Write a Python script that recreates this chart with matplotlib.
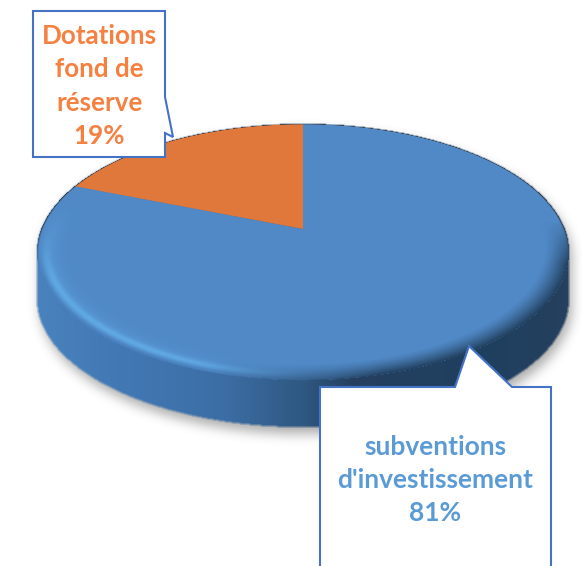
import numpy as np
import matplotlib
matplotlib.use("Agg")
import matplotlib.pyplot as plt
from matplotlib.patches import Polygon
from matplotlib.transforms import Transform
from matplotlib.colors import LinearSegmentedColormap

# ---- data ----
categories = ["subventions\nd'investissement", "Dotations\nfond de\nréserve"]
shares = [81, 19]
slice_colors = ["#5089C6", "#E0783C"]
text_colors = ["#5B9BD5", "#F58040"]

W, H = 582, 566
X0, Y0 = 303.0, 229.0      # apex of the pie on the page
A, B, K = 123.9, 261.7, 0.18   # perspective of the disc
DEPTH = 47


class Perspective(Transform):
    input_dims = 2
    output_dims = 2
    has_inverse = False

    def transform_non_affine(self, values):
        values = np.asarray(values, float)
        w = 1 + K * values[:, 1]
        return np.column_stack([X0 + B * values[:, 0] / w,
                                Y0 - A * values[:, 1] / w])


def unit_coords(px, py):
    yy = (Y0 - py)
    v = yy / (A - K * yy)
    u = (px - X0) / B * (1 + K * v)
    return u, v


def blur(img, n, passes=3):
    out = img.astype(float)
    kernel = np.ones(2 * n + 1) / (2 * n + 1)
    for _ in range(passes):
        out = np.apply_along_axis(lambda m: np.convolve(m, kernel, mode="same"), 0, out)
        out = np.apply_along_axis(lambda m: np.convolve(m, kernel, mode="same"), 1, out)
    return out


fig = plt.figure(figsize=(W / 100, H / 100), dpi=100, facecolor="white")
ax = fig.add_axes([0, 0, 1, 1])

wedges, _ = ax.pie(shares, colors=slice_colors, startangle=90, counterclock=False,
                   radius=1.0, wedgeprops=dict(linewidth=0))
ax.set_aspect("auto")
ax.set_xlim(0, W)
ax.set_ylim(H, 0)
ax.axis("off")

persp = Perspective() + ax.transData
for w in wedges:
    w.set_transform(persp)
    w.set_clip_on(False)
    w.set_zorder(3)

# pixel grid
px, py = np.meshgrid(np.arange(W) + 0.5, np.arange(H) + 0.5)
u, v = unit_coords(px, py)
r = np.hypot(u, v)
disc = r <= 1

# extruded body mask: disc swept downward
body = np.zeros((H, W), bool)
for d in range(0, DEPTH + 1):
    body[d:, :] |= disc[:H - d, :]

# soft shadow below and right of the body
shift = 7
sh = np.zeros((H, W))
sh[shift:, 3:] = body[:H - shift, :-3]
sh = blur(sh, 5)
shadow = np.zeros((H, W, 4))
shadow[..., :3] = 0.42
shadow[..., 3] = sh * 0.55
ax.imshow(shadow, extent=(0, W, H, 0), zorder=1, aspect="auto", interpolation="bilinear")

# side wall: horizontal lighting
side_cmap = LinearSegmentedColormap.from_list(
    "side", [(0.0, "#4A82BE"), (0.15, "#4279B5"), (0.35, "#3C6EA5"),
             (0.50, "#2F5882"), (0.60, "#25405F"), (0.85, "#1F3F60"), (1.0, "#26405E")])
t = np.clip((px - 37) / 531, 0, 1)
rgba = side_cmap(t)
rgba[..., 3] = blur(body.astype(float), 1, 1)
ax.imshow(rgba, extent=(0, W, H, 0), zorder=2, aspect="auto", interpolation="bilinear")

# bevel overlay on the disc
ov = np.zeros((H, W, 4))
lower = np.clip(-v * 2.5, 0, 1)
left = np.clip(-u * 2.5 + 0.1, 0, 1)
right = np.clip((u + 0.3) * 1.8, 0, 1)

rim = np.exp(-((r - 0.965) / 0.016) ** 2) * lower * left
rim_l = np.exp(-((r - 0.95) / 0.04) ** 2) * 0.22 * np.clip(-u * 2, 0, 1) * np.clip(1 - v * 5, 0, 1)
light = np.clip(rim * 0.7 + rim_l, 0, 1)
dark = np.clip((r - 0.91) / 0.09, 0, 1) ** 1.3 * np.clip(-v * 3 + 0.2, 0, 1) * right
roll = np.clip((r - 0.98) / 0.02, 0, 1) * lower * left * 0.7
line = np.clip((r - 0.992) / 0.008, 0, 1) * np.clip(v * 3 + 0.9, 0, 1)

ov_rgb = np.zeros((H, W, 3))
a_total = np.zeros((H, W))
for hexcol, a in [("#62ADE6", light), ("#4279B5", roll), ("#22405F", dark), ("#3A3F48", line)]:
    col = np.array(matplotlib.colors.to_rgb(hexcol))
    a_new = a + a_total * (1 - a)
    safe = np.where(a_new > 0, a_new, 1)
    ov_rgb = (col[None, None, :] * a[..., None] +
              ov_rgb * (a_total * (1 - a))[..., None]) / safe[..., None]
    a_total = a_new
ov[..., :3] = ov_rgb
ov[..., 3] = a_total * disc
ax.imshow(ov, extent=(0, W, H, 0), zorder=4, aspect="auto", interpolation="bilinear")
ax.set_xlim(0, W)
ax.set_ylim(H, 0)

# callouts
edge = "#4472C4"
box_top = [(33, 11), (165, 11), (165, 97), (173, 137), (165, 133), (165, 157), (33, 157)]
box_bot = [(320, 387), (455, 387), (469, 346), (512, 387), (551, 387), (551, 590), (320, 590)]
for pts in (box_top, box_bot):
    ax.add_patch(Polygon(pts, closed=True, facecolor="white", edgecolor=edge,
                         linewidth=1.5, zorder=5, joinstyle="miter"))

font = dict(family="Lato", weight="bold", ha="center", va="center", zorder=6, linespacing=1.47)
ax.text(99.5, 86, f"{categories[1]}\n{shares[1]}%", color=text_colors[1], fontsize=18.7, **font)
ax.text(435.5, 480, f"{categories[0]}\n{shares[0]}%", color=text_colors[0], fontsize=19, **font)

fig.savefig("out.png", dpi=100, facecolor="white")
